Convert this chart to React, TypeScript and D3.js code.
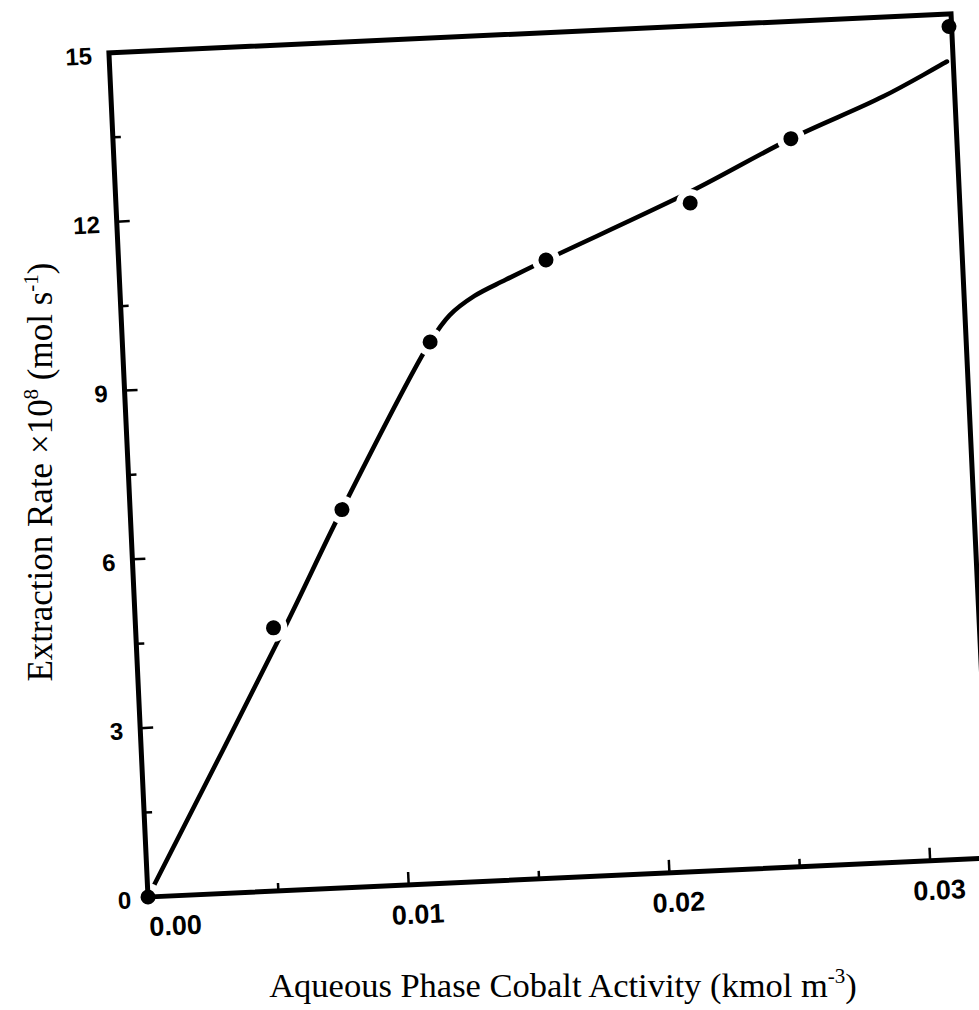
import * as d3 from "d3";
import {useEffect, useRef} from "react";

// measured points (activity in kmol m^-3, rate x 10^8 mol s^-1)
const activity = [0, 0.00528, 0.00811, 0.01178, 0.01636, 0.02198, 0.02595, 0.0322];
const rate = [0, 4.67, 6.71, 9.61, 10.97, 11.86, 12.92, 14.78];

// hand drawn fit line
const fitActivity = [0, 0.00568, 0.00811, 0.01178, 0.01258, 0.01356, 0.01478, 0.01636, 0.0220, 0.02595, 0.02955, 0.03206];
const fitRate = [0, 4.64, 6.71, 9.61, 10.07, 10.39, 10.65, 10.97, 12.06, 12.92, 13.59, 14.16];

const xTicks = [0, 0.01, 0.02, 0.03];
const xTickLabels = ["0.00", "0.01", "0.02", "0.03"];
const xMinor = [0.005, 0.015, 0.025];
const yTicks = [0, 3, 6, 9, 12, 15];
const yTickLabels = ["0", "3", "6", "9", "12", "15"];
const yMinor = [1.5, 4.5, 7.5, 10.5, 13.5];

export default function App() {
    const svgRef = useRef(null);
    const width = 979;
    const height = 1010;
    // the scanned page is tilted a little
    const origin = {x: 148, y: 897};
    const tilt = -2.65;
    const plotW = 843;
    const plotH = 845;

    useEffect(() => {
        if (!svgRef.current) return;
        d3.select(svgRef.current).selectAll("*").remove();

        const svg = d3.select(svgRef.current)
            .attr("width", width)
            .attr("height", height);

        svg.append("rect").attr("width", width).attr("height", height).attr("fill", "white");

        const x = d3.scaleLinear().domain([0, 0.0323]).range([0, plotW]);
        const y = d3.scaleLinear().domain([0, 15]).range([0, -plotH]);

        const g = svg.append("g")
            .attr("transform", `translate(${origin.x},${origin.y}) rotate(${tilt})`);

        const fit = fitActivity.map((a, i) => [a, fitRate[i]] as [number, number]);
        const pts = activity.map((a, i) => [a, rate[i]] as [number, number]);

        const line = d3.line<[number, number]>()
            .x(d => x(d[0]))
            .y(d => y(d[1]))
            .curve(d3.curveCatmullRom.alpha(0.5));

        g.append("path")
            .attr("d", line(fit))
            .attr("fill", "none")
            .attr("stroke", "black")
            .attr("stroke-width", 4.5)
            .attr("stroke-linecap", "round");

        // white halos leave the gaps round each marker
        g.selectAll(".halo").data(pts).enter().append("circle")
            .attr("cx", d => x(d[0]))
            .attr("cy", d => y(d[1]))
            .attr("r", 14)
            .attr("fill", "white");

        // frame
        g.append("rect")
            .attr("x", 0)
            .attr("y", -plotH)
            .attr("width", plotW)
            .attr("height", plotH)
            .attr("fill", "none")
            .attr("stroke", "black")
            .attr("stroke-width", 5);

        // inward ticks
        const tick = (x1: number, y1: number, x2: number, y2: number) =>
            g.append("line").attr("x1", x1).attr("y1", y1).attr("x2", x2).attr("y2", y2)
                .attr("stroke", "black").attr("stroke-width", 2.5);

        xTicks.filter(v => v > 0).forEach(v => tick(x(v), 0, x(v), -13));
        xMinor.forEach(v => tick(x(v), 0, x(v), -8));
        yTicks.filter(v => v > 0 && v < 15).forEach(v => tick(0, y(v), 13, y(v)));
        yMinor.forEach(v => tick(0, y(v), 8, y(v)));

        const labelFont = "'Liberation Sans', Arial, sans-serif";

        g.selectAll(".xl").data(xTicks).enter().append("text")
            .attr("x", d => d === 0 ? x(d) : x(d) + 8)
            .attr("y", 30)
            .attr("dominant-baseline", "central")
            .attr("text-anchor", d => d === 0 ? "start" : "middle")
            .attr("font-family", labelFont)
            .attr("font-weight", "bold")
            .attr("font-size", 27)
            .text((d, i) => xTickLabels[i]);

        g.selectAll(".yl").data(yTicks).enter().append("text")
            .attr("x", -17)
            .attr("y", d => y(d) + 2)
            .attr("dominant-baseline", "central")
            .attr("text-anchor", "end")
            .attr("font-family", labelFont)
            .attr("font-weight", "bold")
            .attr("font-size", 24)
            .text((d, i) => yTickLabels[i]);

        g.selectAll(".dot").data(pts).enter().append("circle")
            .attr("cx", d => x(d[0]))
            .attr("cy", d => y(d[1]))
            .attr("r", 7.5)
            .attr("fill", "black");

        const serif = "'Liberation Serif', 'Times New Roman', serif";

        // axis titles are not tilted
        const xt = svg.append("text")
            .attr("x", 563)
            .attr("y", 997)
            .attr("text-anchor", "middle")
            .attr("font-family", serif)
            .attr("font-size", 34.5)
            .attr("fill", "black");
        xt.append("tspan").text("Aqueous Phase Cobalt Activity (kmol m");
        xt.append("tspan").attr("font-size", 21).attr("dy", -14).text("-3");
        xt.append("tspan").attr("dy", 14).text(")");

        const yt = svg.append("text")
            .attr("transform", "translate(52,472) rotate(-90)")
            .attr("text-anchor", "middle")
            .attr("font-family", serif)
            .attr("font-size", 35)
            .attr("fill", "black");
        yt.append("tspan").text("Extraction Rate \u00d710");
        yt.append("tspan").attr("font-size", 21).attr("dy", -14).text("8");
        yt.append("tspan").attr("dy", 14).text(" (mol s");
        yt.append("tspan").attr("font-size", 21).attr("dy", -14).text("-1");
        yt.append("tspan").attr("dy", 14).text(")");
    }, []);

    return (
        <svg ref={svgRef} style={{position: "absolute", left: 0, top: 0}}></svg>
    );
}
